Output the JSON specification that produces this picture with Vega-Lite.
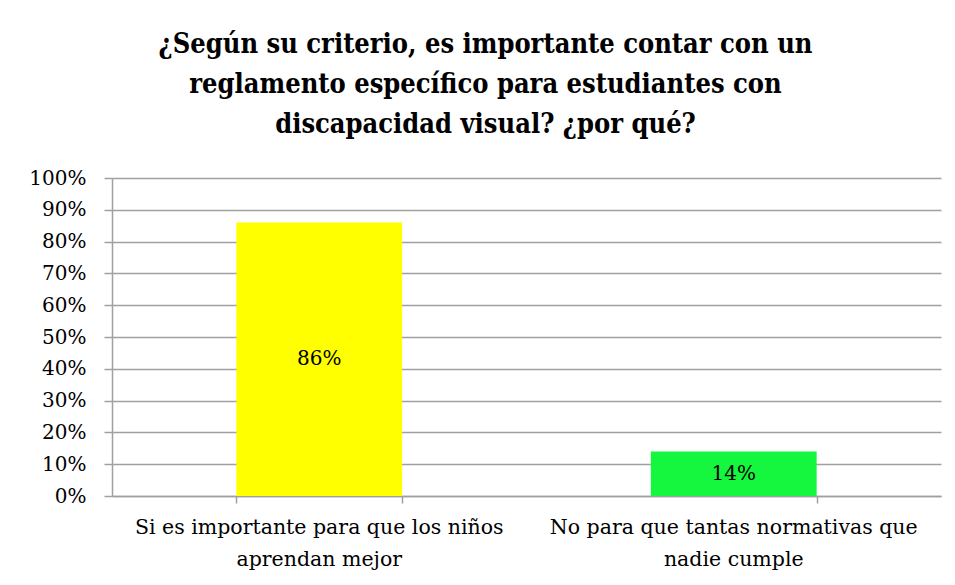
{
  "$schema": "https://vega.github.io/schema/vega-lite/v6.json",
  "width": 829,
  "height": 318,
  "autosize": {"type": "none"},
  "padding": {"left": 112, "top": 178, "right": 14, "bottom": 89},
  "background": "white",
  "config": {
    "view": {"stroke": null},
    "font": "DejaVu Serif"
  },
  "title": {
    "text": ["¿Según su criterio, es importante contar con un", "reglamento específico para estudiantes con", "discapacidad visual? ¿por qué?"],
    "font": "DejaVu Serif Condensed, DejaVu Serif",
    "fontSize": 27,
    "fontWeight": "bold",
    "color": "black",
    "lineHeight": 40,
    "anchor": "middle",
    "dx": -41,
    "offset": 29
  },
  "data": {
    "values": [
      {"categoria": "Si es importante para que los niños aprendan mejor", "valor": 0.86, "etiqueta": "86%"},
      {"categoria": "No para que tantas normativas que nadie cumple", "valor": 0.14, "etiqueta": "14%"}
    ]
  },
  "resolve": {"axis": {"x": "independent"}},
  "layer": [
    {
      "mark": {"type": "bar"},
      "encoding": {
        "x": {
          "field": "categoria",
          "type": "nominal",
          "sort": null,
          "scale": {"paddingInner": 0.6, "paddingOuter": 0.3},
          "axis": {
            "orient": "bottom",
            "title": null,
            "labelAngle": 0,
            "labelFont": "DejaVu Serif",
            "labelFontSize": 20.5,
            "labelColor": "black",
            "labelLineHeight": 32,
            "labelPadding": 21,
            "labelLimit": 500,
            "labelExpr": "datum.value == 'Si es importante para que los niños aprendan mejor' ? ['Si es importante para que los niños', 'aprendan mejor'] : ['No para que tantas normativas que', 'nadie cumple']",
            "ticks": false,
            "domain": false,
            "grid": false
          }
        },
        "y": {
          "field": "valor",
          "type": "quantitative",
          "scale": {"domain": [0, 1]},
          "axis": {
            "title": null,
            "format": ".0%",
            "values": [0, 0.1, 0.2, 0.3, 0.4, 0.5, 0.6, 0.7, 0.8, 0.9, 1],
            "labelOverlap": false,
            "labelFont": "DejaVu Serif",
            "labelFontSize": 20,
            "labelColor": "black",
            "labelPadding": 18,
            "tickSize": 8,
            "tickColor": "#a0a0a0",
            "tickWidth": 1.5,
            "domainColor": "#a0a0a0",
            "domainWidth": 1.5,
            "grid": true,
            "gridColor": "#a0a0a0",
            "gridWidth": 1.5
          }
        },
        "color": {
          "field": "categoria",
          "type": "nominal",
          "scale": {"domain": ["Si es importante para que los niños aprendan mejor", "No para que tantas normativas que nadie cumple"], "range": ["#ffff00", "#14f73e"]},
          "legend": null
        }
      }
    },
    {
      "transform": [{"calculate": "datum.valor / 2", "as": "medio"}],
      "mark": {"type": "text", "font": "DejaVu Serif", "fontSize": 20, "color": "black", "baseline": "middle"},
      "encoding": {
        "x": {
          "field": "categoria",
          "type": "nominal",
          "sort": null,
          "axis": {
            "orient": "bottom",
            "title": null,
            "labels": false,
            "tickBand": "extent",
            "tickSize": 7,
            "tickColor": "#a0a0a0",
            "tickWidth": 1.5,
            "domainColor": "#a0a0a0",
            "domainWidth": 1.5,
            "grid": false
          }
        },
        "y": {
          "field": "medio",
          "type": "quantitative",
          "axis": {
            "title": null,
            "format": ".0%",
            "values": [0, 0.1, 0.2, 0.3, 0.4, 0.5, 0.6, 0.7, 0.8, 0.9, 1],
            "labelOverlap": false,
            "labelFont": "DejaVu Serif",
            "labelFontSize": 20,
            "labelColor": "black",
            "labelPadding": 18,
            "tickSize": 8,
            "tickColor": "#a0a0a0",
            "tickWidth": 1.5,
            "domainColor": "#a0a0a0",
            "domainWidth": 1.5,
            "grid": true,
            "gridColor": "#a0a0a0",
            "gridWidth": 1.5
          }
        },
        "text": {"field": "etiqueta"}
      }
    }
  ]
}
